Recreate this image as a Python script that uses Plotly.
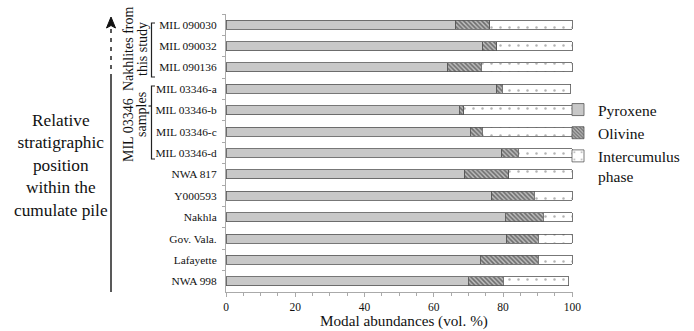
import plotly.graph_objects as go

samples = ["MIL 090030", "MIL 090032", "MIL 090136", "MIL 03346-a", "MIL 03346-b",
           "MIL 03346-c", "MIL 03346-d", "NWA 817", "Y000593", "Nakhla",
           "Gov. Vala.", "Lafayette", "NWA 998"]
pyroxene = [66.3, 74.2, 64.0, 78.2, 67.4, 70.6, 79.6, 68.9, 76.7, 80.7, 81.0, 73.4, 69.9]
olivine = [9.8, 4.0, 9.7, 1.5, 1.2, 3.4, 4.8, 12.7, 12.3, 10.9, 9.2, 16.8, 10.1]
intercumulus = [23.9, 21.8, 26.3, 19.8, 31.4, 26.0, 15.6, 18.4, 11.0, 8.4, 9.8, 9.8, 18.9]
x_ticks = [0, 20, 40, 60, 80, 100]

FONT = "Liberation Serif, Times New Roman, DejaVu Serif, serif"
L, R, T, B = 226, 573, 14, 292
W, H = 694, 331


def px(x):
    return (x - L) / (R - L)


def py(y):
    return (B - y) / (B - T)


line = dict(color="#555", width=0.8)
fig = go.Figure()
fig.add_trace(go.Bar(y=samples, x=pyroxene, orientation="h", name="Pyroxene",
                     marker=dict(color="#c8c8c8", line=line)))
fig.add_trace(go.Bar(y=samples, x=olivine, orientation="h", name="Olivine",
                     marker=dict(color="#bdbdbd", line=line,
                                 pattern=dict(shape="\\", fgcolor="#1e1e1e", bgcolor="#bcbcbc",
                                              size=3.2, solidity=0.5))))
fig.add_trace(go.Bar(y=samples, x=intercumulus, orientation="h", name="Intercumulus<br>phase",
                     marker=dict(color="white", line=line,
                                 pattern=dict(shape=".", fgcolor="#666", bgcolor="white",
                                              size=9, solidity=0.06))))

shapes = []
# stratigraphic arrow
shapes.append(dict(type="line", xref="paper", yref="paper", x0=px(111), x1=px(111),
                   y0=py(292), y1=py(78), line=dict(color="#222", width=1.5)))
shapes.append(dict(type="line", xref="paper", yref="paper", x0=px(111), x1=px(111),
                   y0=py(78), y1=py(27), line=dict(color="#222", width=1.5, dash="4px,5px")))
shapes.append(dict(type="path", xref="paper", yref="paper",
                   path=f"M {px(111)},{py(17)} L {px(106.5)},{py(28)} L {px(111)},{py(25.5)} L {px(115.5)},{py(28)} Z",
                   fillcolor="#111", line=dict(color="#111", width=1)))


def bracket(x, y0, y1, arm=3.5):
    return dict(type="path", xref="paper", yref="paper",
                path=f"M {px(x + arm)},{py(y0)} L {px(x)},{py(y0)} L {px(x)},{py(y1)} L {px(x + arm)},{py(y1)}",
                line=dict(color="#222", width=1.2))


shapes.append(bracket(151.5, 23, 77))
shapes.append(bracket(151.5, 86, 159))
shapes.append(dict(type="line", xref="paper", yref="paper", x0=px(148.5), x1=px(151.5),
                   y0=py(106), y1=py(106), line=dict(color="#222", width=1.2)))

ann = []
ann.append(dict(text="Relative<br>stratigraphic<br>position<br>within the<br>cumulate pile",
                x=px(61), y=py(165), xref="paper", yref="paper", showarrow=False,
                xanchor="center", yanchor="middle",
                font=dict(family=FONT, size=17.3, color="#111"), align="center"))
for txt, xx, yy in [("Nakhlites from", 128, 49), ("this study", 142, 49),
                    ("MIL 03346", 128, 130), ("samples", 142, 115)]:
    ann.append(dict(text=txt, x=px(xx), y=py(yy), xref="paper", yref="paper",
                    showarrow=False, textangle=-90, xanchor="center", yanchor="middle",
                    font=dict(family=FONT, size=14, color="#111")))
ann.append(dict(text="Modal abundances (vol. %)", x=px(404), y=py(320.5), xref="paper",
                yref="paper", showarrow=False, xanchor="center", yanchor="middle",
                font=dict(family=FONT, size=15.2, color="#111")))

fig.update_layout(
    width=W, height=H, barmode="stack", bargap=0.58,
    margin=dict(l=L, r=W - R, t=T, b=H - B, pad=0, autoexpand=False),
    paper_bgcolor="white", plot_bgcolor="white",
    font=dict(family=FONT, color="#111"),
    showlegend=True,
    legend=dict(x=px(558), y=py(93), xanchor="left", yanchor="top", valign="top",
                font=dict(family=FONT, size=15.5, color="#111"),
                traceorder="normal", tracegroupgap=0, bgcolor="rgba(0,0,0,0)",
                itemwidth=30),
    shapes=shapes, annotations=ann,
)
fig.update_xaxes(range=[0, 100.2], tickvals=x_ticks, ticktext=[str(v) for v in x_ticks],
                 showgrid=False, zeroline=False, showline=True, linecolor="#aaa", linewidth=1,
                 ticks="outside", ticklen=4, tickcolor="#aaa",
                 minor=dict(dtick=5, ticks="outside", ticklen=3, tickcolor="#aaa"),
                 tickfont=dict(family=FONT, size=11.5, color="#111"))
fig.update_yaxes(categoryorder="array", categoryarray=samples, autorange="reversed",
                 showgrid=False, showline=True, linecolor="#aaa", linewidth=1,
                 ticks="outside", ticklen=3, tickcolor="#aaa", tickson="boundaries",
                 ticklabelstandoff=6,
                 tickfont=dict(family=FONT, size=11.4, color="#111"))

fig.write_html("out.html", config={"displayModeBar": False},
               post_script="document.body.style.margin='0';document.body.style.overflow='hidden';")
